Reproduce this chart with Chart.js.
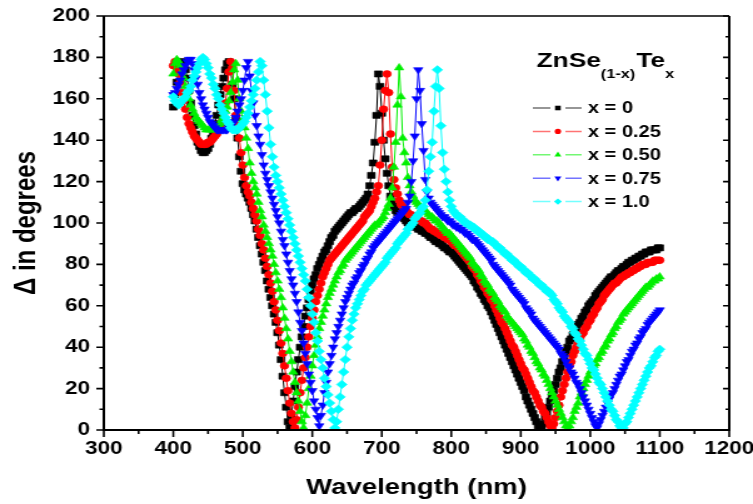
<!DOCTYPE html>
<html>
<head>
<meta charset="utf-8">
<title>Ellipsometric angle of ZnSe(1-x)Tex</title>
<script src="https://cdn.jsdelivr.net/npm/chart.js@4.4.1/dist/chart.umd.min.js"></script>
<style>
  html, body { margin: 0; padding: 0; background: #fff; }
  /* drawn on a narrower canvas and widened, like the exported figure */
  #delta { display: block; width: 753px; height: 504px; }
</style>
</head>
<body>
<canvas id="delta" width="602" height="504" style="width:753px;height:504px"></canvas>
<script>
// ---- data: ellipsometric angle Delta (degrees) vs wavelength (nm), 2.5 nm steps ----
const WAVELENGTH = [
  400, 402.5, 405, 407.5, 410, 412.5, 415, 417.5, 420, 422.5, 425, 427.5, 430, 432.5, 435, 437.5, 440, 442.5, 445, 447.5,
  450, 452.5, 455, 457.5, 460, 462.5, 465, 467.5, 470, 472.5, 475, 477.5, 480, 482.5, 485, 487.5, 490, 492.5, 495, 497.5,
  500, 502.5, 505, 507.5, 510, 512.5, 515, 517.5, 520, 522.5, 525, 527.5, 530, 532.5, 535, 537.5, 540, 542.5, 545, 547.5,
  550, 552.5, 555, 557.5, 560, 562.5, 565, 567.5, 570, 572.5, 575, 577.5, 580, 582.5, 585, 587.5, 590, 592.5, 595, 597.5,
  600, 602.5, 605, 607.5, 610, 612.5, 615, 617.5, 620, 622.5, 625, 627.5, 630, 632.5, 635, 637.5, 640, 642.5, 645, 647.5,
  650, 652.5, 655, 657.5, 660, 662.5, 665, 667.5, 670, 672.5, 675, 677.5, 680, 682.5, 685, 687.5, 690, 692.5, 695, 697.5,
  700, 702.5, 705, 707.5, 710, 712.5, 715, 717.5, 720, 722.5, 725, 727.5, 730, 732.5, 735, 737.5, 740, 742.5, 745, 747.5,
  750, 752.5, 755, 757.5, 760, 762.5, 765, 767.5, 770, 772.5, 775, 777.5, 780, 782.5, 785, 787.5, 790, 792.5, 795, 797.5,
  800, 802.5, 805, 807.5, 810, 812.5, 815, 817.5, 820, 822.5, 825, 827.5, 830, 832.5, 835, 837.5, 840, 842.5, 845, 847.5,
  850, 852.5, 855, 857.5, 860, 862.5, 865, 867.5, 870, 872.5, 875, 877.5, 880, 882.5, 885, 887.5, 890, 892.5, 895, 897.5,
  900, 902.5, 905, 907.5, 910, 912.5, 915, 917.5, 920, 922.5, 925, 927.5, 930, 932.5, 935, 937.5, 940, 942.5, 945, 947.5,
  950, 952.5, 955, 957.5, 960, 962.5, 965, 967.5, 970, 972.5, 975, 977.5, 980, 982.5, 985, 987.5, 990, 992.5, 995, 997.5,
  1000, 1002.5, 1005, 1007.5, 1010, 1012.5, 1015, 1017.5, 1020, 1022.5, 1025, 1027.5, 1030, 1032.5, 1035, 1037.5, 1040, 1042.5, 1045, 1047.5,
  1050, 1052.5, 1055, 1057.5, 1060, 1062.5, 1065, 1067.5, 1070, 1072.5, 1075, 1077.5, 1080, 1082.5, 1085, 1087.5, 1090, 1092.5, 1095, 1097.5,
  1100
];

const DELTA_X000 = [
  156, 162, 168, 173, 176, 178, 177, 174, 170, 164, 158, 152, 147, 143, 139, 137, 135, 134, 134, 135,
  136, 138, 141, 144, 148, 152, 157, 162, 166, 170, 174, 177, 178, 174, 167, 160, 151, 141, 132, 125,
  119, 116, 114, 112, 110, 107, 104, 101, 97, 93, 89, 85, 81, 77, 72, 68, 64, 60, 56, 52,
  47, 41, 34, 26, 18, 11, 4, 1, 7, 14, 21, 28, 34, 40, 45, 50, 55, 59, 63, 67,
  70, 73, 75, 78, 80, 82, 84, 86, 87, 89, 91, 93, 94, 96, 97, 98, 99, 100, 101, 102,
  103, 104, 105, 105, 106, 107, 107, 108, 109, 110, 111, 112, 114, 118, 123, 129, 139, 152, 172, 166,
  153, 140, 131, 124, 118, 113, 110, 108, 106, 105, 104, 103, 103, 102, 101, 100, 100, 99, 99, 98,
  98, 97, 97, 96, 96, 95, 95, 94, 93, 93, 92, 91, 91, 90, 90, 89, 88, 88, 87, 86,
  86, 85, 84, 83, 82, 81, 80, 79, 78, 77, 76, 75, 74, 72, 71, 69, 68, 66, 65, 63,
  62, 60, 59, 57, 55, 53, 51, 49, 47, 45, 43, 41, 39, 37, 35, 33, 31, 29, 27, 25,
  23, 21, 19, 16, 14, 12, 10, 8, 6, 4, 2, 1, 1, 3, 6, 8, 11, 14, 17, 19,
  22, 25, 28, 30, 33, 35, 38, 40, 43, 44, 46, 48, 49, 51, 52, 54, 55, 57, 58, 60,
  61, 62, 63, 65, 66, 67, 68, 69, 70, 71, 72, 73, 74, 74, 75, 76, 77, 77, 78, 79,
  79, 80, 81, 81, 82, 82, 83, 83, 84, 84, 85, 85, 86, 86, 86, 87, 87, 87, 87, 88,
  88
];

const DELTA_X025 = [
  176, 178, 175, 172, 168, 163, 159, 155, 151, 148, 146, 144, 142, 141, 140, 139, 138, 138, 138, 138,
  139, 139, 140, 141, 142, 143, 145, 147, 149, 153, 158, 165, 173, 178, 175, 164, 152, 147, 141, 134,
  128, 122, 118, 115, 113, 110, 107, 104, 101, 97, 94, 90, 87, 83, 79, 75, 71, 67, 62, 58,
  53, 48, 42, 37, 31, 25, 19, 13, 8, 4, 1, 5, 11, 18, 24, 30, 35, 40, 45, 50,
  54, 58, 62, 65, 68, 71, 74, 76, 78, 80, 82, 83, 84, 85, 86, 87, 88, 89, 90, 91,
  92, 93, 94, 95, 96, 97, 98, 99, 100, 101, 103, 104, 105, 106, 108, 110, 112, 115, 118, 128,
  140, 155, 164, 172, 163, 143, 127, 121, 117, 114, 111, 109, 108, 107, 106, 105, 104, 104, 103, 103,
  102, 102, 101, 101, 100, 100, 99, 98, 97, 97, 96, 96, 95, 95, 94, 94, 93, 93, 92, 92,
  91, 90, 89, 89, 88, 87, 86, 85, 84, 83, 82, 81, 79, 78, 77, 75, 74, 72, 71, 69,
  68, 66, 65, 63, 62, 60, 58, 56, 54, 52, 51, 49, 47, 45, 43, 41, 40, 38, 36, 34,
  32, 30, 29, 27, 25, 23, 21, 19, 18, 16, 14, 12, 11, 9, 8, 6, 4, 2, 1, 3,
  6, 9, 12, 16, 19, 22, 25, 28, 31, 33, 36, 38, 40, 42, 44, 46, 47, 49, 50, 52,
  53, 55, 56, 58, 59, 61, 62, 63, 65, 66, 67, 68, 69, 70, 71, 71, 72, 73, 74, 74,
  75, 75, 76, 76, 77, 77, 78, 78, 79, 79, 80, 80, 80, 81, 81, 81, 81, 82, 82, 82,
  82
];

const DELTA_X050 = [
  172, 177, 179, 178, 176, 173, 170, 166, 163, 160, 157, 155, 153, 151, 150, 149, 148, 147, 146, 145,
  145, 145, 145, 145, 146, 146, 147, 148, 150, 152, 154, 156, 159, 163, 168, 174, 177, 169, 160, 154,
  150, 146, 141, 136, 129, 124, 120, 117, 114, 110, 106, 103, 99, 96, 93, 90, 87, 84, 80, 76,
  72, 68, 64, 59, 54, 49, 44, 38, 33, 28, 23, 18, 14, 9, 4, 1, 7, 13, 20, 26,
  31, 36, 41, 45, 49, 52, 55, 58, 61, 64, 66, 68, 70, 72, 74, 76, 77, 79, 80, 82,
  83, 84, 85, 86, 87, 88, 89, 90, 91, 92, 93, 94, 95, 96, 97, 98, 99, 99, 100, 101,
  102, 103, 105, 107, 109, 112, 117, 127, 139, 157, 175, 161, 141, 134, 129, 122, 118, 115, 113, 111,
  110, 109, 108, 107, 106, 106, 105, 104, 103, 103, 102, 101, 101, 100, 99, 98, 97, 96, 95, 95,
  94, 93, 92, 91, 90, 89, 88, 87, 86, 85, 84, 83, 81, 80, 79, 78, 77, 75, 74, 72,
  71, 70, 68, 67, 66, 64, 63, 62, 60, 59, 58, 57, 55, 54, 53, 52, 51, 50, 49, 48,
  47, 46, 44, 43, 41, 40, 38, 37, 35, 33, 32, 30, 29, 27, 26, 24, 22, 20, 18, 16,
  14, 12, 10, 8, 6, 4, 2, 1, 2, 4, 6, 9, 11, 13, 16, 18, 20, 22, 24, 26,
  28, 29, 31, 32, 34, 35, 37, 38, 40, 41, 43, 44, 46, 47, 49, 50, 52, 53, 54, 56,
  57, 58, 59, 60, 61, 62, 63, 64, 65, 66, 67, 68, 69, 69, 70, 71, 72, 72, 73, 73,
  74
];

const DELTA_X075 = [
  162, 163, 165, 167, 169, 172, 174, 176, 178, 179, 179, 177, 174, 170, 167, 163, 160, 157, 155, 153,
  151, 149, 148, 147, 146, 145, 145, 145, 145, 145, 145, 145, 146, 147, 148, 149, 151, 154, 157, 160,
  164, 169, 175, 178, 171, 164, 158, 152, 147, 142, 138, 133, 128, 124, 121, 118, 115, 112, 109, 106,
  103, 100, 96, 92, 89, 85, 81, 77, 73, 70, 66, 62, 57, 52, 48, 42, 37, 32, 27, 23,
  19, 14, 10, 6, 2, 7, 12, 18, 23, 28, 32, 36, 40, 44, 47, 50, 53, 56, 59, 62,
  64, 66, 68, 70, 71, 73, 74, 76, 77, 79, 80, 82, 83, 85, 86, 88, 89, 90, 91, 92,
  93, 94, 95, 96, 97, 98, 99, 100, 101, 102, 103, 104, 105, 106, 107, 110, 113, 120, 130, 142,
  160, 174, 164, 148, 135, 121, 115, 112, 110, 109, 108, 107, 106, 105, 104, 103, 103, 102, 101, 101,
  100, 99, 99, 98, 98, 97, 97, 96, 95, 95, 94, 93, 92, 92, 91, 90, 89, 88, 87, 86,
  85, 84, 83, 82, 80, 79, 78, 77, 76, 75, 74, 73, 72, 71, 70, 68, 67, 66, 65, 64,
  63, 62, 61, 59, 58, 57, 56, 54, 53, 52, 51, 50, 49, 48, 47, 46, 45, 44, 43, 42,
  41, 40, 39, 37, 36, 35, 33, 31, 30, 28, 27, 25, 23, 22, 20, 18, 16, 14, 12, 10,
  8, 6, 4, 2, 1, 3, 5, 7, 9, 11, 13, 15, 17, 18, 20, 22, 24, 26, 27, 29,
  31, 33, 34, 36, 38, 39, 41, 42, 44, 45, 47, 48, 49, 51, 52, 53, 54, 55, 56, 57,
  58
];

const DELTA_X100 = [
  161, 159, 158, 157, 158, 159, 160, 161, 163, 164, 166, 169, 171, 173, 175, 177, 179, 180, 179, 177,
  175, 172, 170, 167, 165, 162, 160, 157, 155, 153, 151, 149, 148, 146, 145, 145, 145, 145, 146, 147,
  148, 149, 151, 153, 156, 159, 162, 165, 169, 173, 178, 176, 169, 162, 154, 146, 138, 132, 127, 123,
  120, 117, 114, 111, 108, 105, 102, 99, 96, 93, 90, 87, 84, 81, 78, 75, 72, 68, 64, 60,
  56, 52, 47, 43, 38, 34, 30, 25, 21, 17, 13, 9, 5, 1, 4, 10, 16, 22, 28, 34,
  40, 45, 49, 53, 56, 59, 61, 63, 65, 67, 68, 70, 71, 72, 73, 74, 75, 76, 77, 78,
  79, 80, 81, 83, 84, 85, 86, 87, 88, 90, 91, 92, 93, 94, 95, 97, 98, 99, 100, 102,
  103, 104, 105, 107, 108, 111, 116, 125, 132, 139, 154, 166, 174, 165, 147, 134, 126, 120, 115, 111,
  108, 106, 105, 104, 103, 103, 102, 101, 100, 100, 99, 99, 98, 98, 97, 96, 96, 95, 94, 94,
  93, 92, 92, 91, 91, 90, 89, 88, 88, 87, 86, 85, 85, 84, 83, 82, 82, 81, 80, 79,
  79, 78, 77, 76, 76, 75, 74, 73, 73, 72, 71, 70, 70, 69, 68, 67, 67, 66, 65, 63,
  62, 61, 59, 58, 57, 55, 54, 53, 52, 50, 49, 47, 46, 44, 43, 41, 39, 37, 36, 34,
  32, 30, 29, 27, 25, 23, 22, 20, 18, 16, 14, 12, 10, 9, 7, 5, 4, 2, 1, 1,
  3, 4, 6, 8, 10, 12, 14, 16, 18, 20, 22, 24, 26, 28, 30, 31, 33, 35, 36, 38,
  39
];

const COMPOSITIONS = ['x = 0', 'x = 0.25', 'x = 0.50', 'x = 0.75', 'x = 1.0'];
const X_TICKS = [300, 400, 500, 600, 700, 800, 900, 1000, 1100, 1200];
const Y_TICKS = [0, 20, 40, 60, 80, 100, 120, 140, 160, 180, 200];

// ---- look ----
const FONT = '"Liberation Sans", Arial, Helvetica, sans-serif';
const bold = (size) => `bold ${size}px ${FONT}`;

const SERIES = [
  { name: COMPOSITIONS[0], values: DELTA_X000, color: '#000000', marker: 'rect',     radius: 4.3, rot: 0 },
  { name: COMPOSITIONS[1], values: DELTA_X025, color: '#ff0000', marker: 'circle',   radius: 3.4, rot: 0 },
  { name: COMPOSITIONS[2], values: DELTA_X050, color: '#00f000', marker: 'triangle', radius: 4.3, rot: 0 },
  { name: COMPOSITIONS[3], values: DELTA_X075, color: '#0000ff', marker: 'triangle', radius: 4.3, rot: 180 },
  { name: COMPOSITIONS[4], values: DELTA_X100, color: '#00ffff', marker: 'rectRot',  radius: 4.2, rot: 0 }
];

// hand-drawn marker for the key, same shapes as the Chart.js point styles
function marker(ctx, style, x, y, r, rot) {
  ctx.beginPath();
  if (style === 'circle') {
    ctx.arc(x, y, r, 0, Math.PI * 2);
  } else if (style === 'rect') {
    const s = r * Math.SQRT1_2;
    ctx.rect(x - s, y - s, 2 * s, 2 * s);
  } else if (style === 'rectRot') {
    ctx.moveTo(x, y - r); ctx.lineTo(x + r, y); ctx.lineTo(x, y + r); ctx.lineTo(x - r, y);
    ctx.closePath();
  } else {
    let a = rot * Math.PI / 180;
    ctx.moveTo(x + Math.sin(a) * r, y - Math.cos(a) * r);
    a += Math.PI * 2 / 3;
    ctx.lineTo(x + Math.sin(a) * r, y - Math.cos(a) * r);
    a += Math.PI * 2 / 3;
    ctx.lineTo(x + Math.sin(a) * r, y - Math.cos(a) * r);
    ctx.closePath();
  }
  ctx.fill();
}

// box, ticks (major + minor, outside on left/bottom, inside on right)
const axesFrame = {
  id: 'axesFrame',
  afterDatasetsDraw(chart) {
    const { ctx, chartArea: a, scales: { x, y } } = chart;
    ctx.save();
    ctx.strokeStyle = '#000';
    ctx.lineWidth = 1.6;
    ctx.beginPath();
    for (let i = 0; i < X_TICKS.length; i++) {
      const px = x.getPixelForValue(X_TICKS[i]);
      ctx.moveTo(px, a.bottom); ctx.lineTo(px, a.bottom + 7);
      if (i < X_TICKS.length - 1) {
        const mx = x.getPixelForValue((X_TICKS[i] + X_TICKS[i + 1]) / 2);
        ctx.moveTo(mx, a.bottom); ctx.lineTo(mx, a.bottom + 4);
      }
    }
    for (let i = 0; i < Y_TICKS.length; i++) {
      const py = y.getPixelForValue(Y_TICKS[i]);
      ctx.moveTo(a.left, py); ctx.lineTo(a.left - 6, py);
      ctx.moveTo(a.right, py); ctx.lineTo(a.right - 5, py);
      if (i < Y_TICKS.length - 1) {
        const my = y.getPixelForValue((Y_TICKS[i] + Y_TICKS[i + 1]) / 2);
        ctx.moveTo(a.left, my); ctx.lineTo(a.left - 3.5, my);
        ctx.moveTo(a.right, my); ctx.lineTo(a.right - 3, my);
      }
    }
    ctx.stroke();
    ctx.lineWidth = 2;
    ctx.beginPath();
    ctx.moveTo(a.left, a.top); ctx.lineTo(a.left, a.bottom); ctx.lineTo(a.right, a.bottom); ctx.lineTo(a.right, a.top);
    ctx.stroke();
    ctx.lineWidth = 1.4;
    ctx.beginPath();
    ctx.moveTo(a.left, a.top); ctx.lineTo(a.right, a.top);
    ctx.stroke();
    ctx.restore();
  }
};

// axis titles and the composition key
const annotations = {
  id: 'annotations',
  afterDraw(chart) {
    const { ctx, chartArea: a } = chart;
    ctx.save();
    ctx.fillStyle = '#000';

    ctx.font = bold(22);
    ctx.textAlign = 'center';
    ctx.textBaseline = 'middle';
    ctx.fillText('Wavelength (nm)', (a.left + a.right) / 2, 488);

    ctx.save();
    ctx.translate(21, (a.top + a.bottom) / 2);
    ctx.rotate(-Math.PI / 2);
    ctx.font = bold(24);
    ctx.fillText('\u0394 in degrees', 0, 0);
    ctx.restore();

    // ZnSe(1-x)Tex heading
    ctx.textAlign = 'left';
    ctx.textBaseline = 'alphabetic';
    let tx = 429;
    const parts = [['ZnSe', 21, 67], ['(1-x)', 13, 78], ['Te', 21, 67], ['x', 13, 78]];
    parts.forEach(([t, size, base]) => {
      ctx.font = bold(size);
      ctx.fillText(t, tx, base);
      tx += ctx.measureText(t).width + (size === 13 ? 1 : 0);
    });

    ctx.textBaseline = 'middle';
    SERIES.forEach((s, i) => {
      const yy = 108 + i * 23.4;
      ctx.save();
      ctx.strokeStyle = s.color;
      ctx.globalAlpha = 0.55;
      ctx.lineWidth = 1.5;
      ctx.beginPath();
      ctx.moveTo(426, yy); ctx.lineTo(440, yy);
      ctx.moveTo(452, yy); ctx.lineTo(465, yy);
      ctx.stroke();
      ctx.restore();
      ctx.fillStyle = s.color;
      marker(ctx, s.marker, 446, yy, s.radius * 0.75, s.rot);
      ctx.fillStyle = '#000';
      ctx.font = bold(16);
      ctx.fillText(s.name, 470, yy + 1);
    });
    ctx.restore();
  }
};

new Chart(document.getElementById('delta'), {
  type: 'scatter',
  data: {
    datasets: SERIES.map((s, i) => ({
      label: s.name,
      data: WAVELENGTH.map((w, k) => ({ x: w, y: s.values[k] })),
      showLine: true,
      borderColor: s.color,
      borderWidth: 1,
      backgroundColor: s.color,
      pointStyle: s.marker,
      pointRadius: s.radius,
      pointRotation: s.rot,
      pointBorderColor: s.color,
      pointBorderWidth: 0.6,
      order: SERIES.length - i
    }))
  },
  options: {
    responsive: false,
    animation: false,
    devicePixelRatio: 1,
    layout: { padding: { top: 16, right: 19, left: 0, bottom: 0 } },
    plugins: { legend: { display: false }, tooltip: { enabled: false } },
    scales: {
      x: {
        type: 'linear', min: X_TICKS[0], max: X_TICKS[X_TICKS.length - 1],
        grid: { display: false, drawTicks: false }, border: { display: false },
        afterBuildTicks: (s) => { s.ticks = X_TICKS.map(v => ({ value: v })); },
        ticks: { color: '#000', font: { family: FONT, size: 18, weight: 'bold' }, padding: 8, maxRotation: 0, autoSkip: false,
                 callback: (v) => String(v) },
        afterFit: (s) => { s.height = 74; s.paddingLeft = 0; s.paddingRight = 0; }
      },
      y: {
        type: 'linear', min: Y_TICKS[0], max: Y_TICKS[Y_TICKS.length - 1],
        grid: { display: false, drawTicks: false }, border: { display: false },
        afterBuildTicks: (s) => { s.ticks = Y_TICKS.map(v => ({ value: v })); },
        ticks: { color: '#000', font: { family: FONT, size: 18, weight: 'bold' }, padding: 11, autoSkip: false,
                 callback: (v) => String(v) },
        afterFit: (s) => { s.width = 83; s.paddingTop = 0; s.paddingBottom = 0; }
      }
    }
  },
  plugins: [axesFrame, annotations]
});
</script>
</body>
</html>
